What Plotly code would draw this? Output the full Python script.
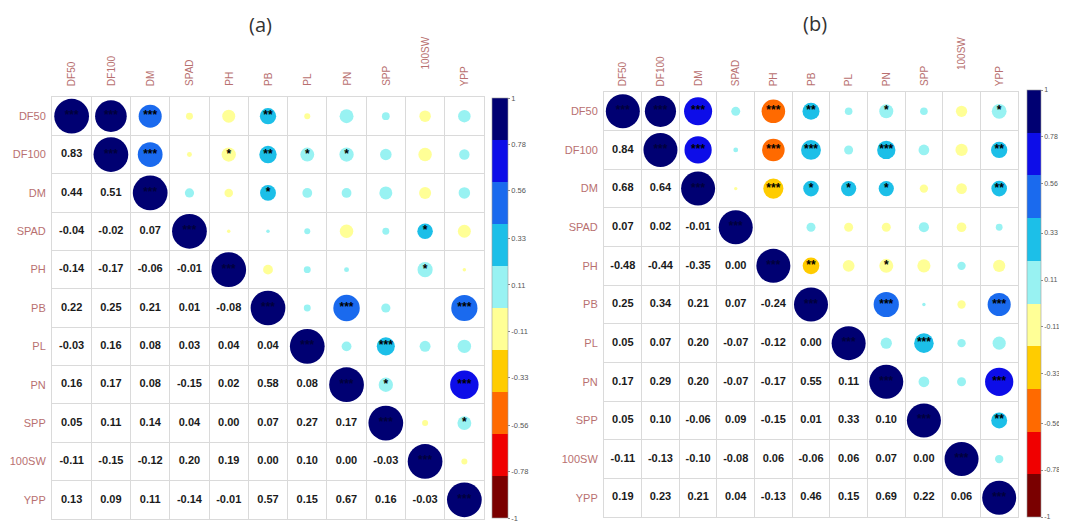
import plotly.graph_objects as go

variables = ["DF50", "DF100", "DM", "SPAD", "PH", "PB", "PL", "PN", "SPP", "100SW", "YPP"]

# lower-triangle correlations, panel (a)
corr_a_lower = [
    [],
    [0.83],
    [0.44, 0.51],
    [-0.04, -0.02, 0.07],
    [-0.14, -0.17, -0.06, -0.01],
    [0.22, 0.25, 0.21, 0.01, -0.08],
    [-0.03, 0.16, 0.08, 0.03, 0.04, 0.04],
    [0.16, 0.17, 0.08, -0.15, 0.02, 0.58, 0.08],
    [0.05, 0.11, 0.14, 0.04, 0.00, 0.07, 0.27, 0.17],
    [-0.11, -0.15, -0.12, 0.20, 0.19, 0.00, 0.10, 0.00, -0.03],
    [0.13, 0.09, 0.11, -0.14, -0.01, 0.57, 0.15, 0.67, 0.16, -0.03],
]

# lower-triangle correlations, panel (b)
corr_b_lower = [
    [],
    [0.84],
    [0.68, 0.64],
    [0.07, 0.02, -0.01],
    [-0.48, -0.44, -0.35, 0.00],
    [0.25, 0.34, 0.21, 0.07, -0.24],
    [0.05, 0.07, 0.20, -0.07, -0.12, 0.00],
    [0.17, 0.29, 0.20, -0.07, -0.17, 0.55, 0.11],
    [0.05, 0.10, -0.06, 0.09, -0.15, 0.01, 0.33, 0.10],
    [-0.11, -0.13, -0.10, -0.08, 0.06, -0.06, 0.06, 0.07, 0.00],
    [0.19, 0.23, 0.21, 0.04, -0.13, 0.46, 0.15, 0.69, 0.22, 0.06],
]

# significance stars for the diagonal and upper triangle (row i, columns i..10)
stars_a = [
    ["***", "***", "***", "", "", "**", "", "", "", "", ""],
    ["***", "***", "", "*", "**", "*", "*", "", "", ""],
    ["***", "", "", "*", "", "", "", "", ""],
    ["***", "", "", "", "", "", "*", ""],
    ["***", "", "", "", "", "*", ""],
    ["***", "", "***", "", "", "***"],
    ["***", "", "***", "", ""],
    ["***", "*", "", "***"],
    ["***", "", "*"],
    ["***", ""],
    ["***"],
]

stars_b = [
    ["***", "***", "***", "", "***", "**", "", "*", "", "", "*"],
    ["***", "***", "", "***", "***", "", "***", "", "", "**"],
    ["***", "", "***", "*", "*", "*", "", "", "**"],
    ["***", "", "", "", "", "", "", ""],
    ["***", "**", "", "*", "", "", ""],
    ["***", "", "***", "", "", "***"],
    ["***", "", "***", "", ""],
    ["***", "", "", "***"],
    ["***", "", "**"],
    ["***", ""],
    ["***"],
]

colorbar_ticks = [1, 0.78, 0.56, 0.33, 0.11, -0.11, -0.33, -0.56, -0.78, -1]
colorbar_labels = ["1", "0.78", "0.56", "0.33", "0.11", "-0.11", "-0.33", "-0.56", "-0.78", "-1"]

band_colors = ["#7A0000", "#F00000", "#FF6A00", "#FFCC00", "#FFFF96",
               "#98F2F2", "#1CBFE8", "#1A6AEE", "#0D0DE8", "#000072"]
colorscale = []
for k, c in enumerate(band_colors):
    colorscale += [[k / 10, c], [(k + 1) / 10, c]]

# the page body has an 8px margin, so the figure is sized to the visible area
OFF = 8
W, H = 1067 - OFF, 524 - OFF
LABEL_COL = "#B87070"
GRID_COL = "#DADADA"
FONT = "Liberation Sans"


def px_x(v):
    return (v - OFF) / W


def px_y(v):
    return 1 - (v - OFF) / H


def full_matrix(lower):
    n = len(variables)
    m = [[1.0] * n for _ in range(n)]
    for i in range(n):
        for j in range(i):
            m[i][j] = lower[i][j]
            m[j][i] = lower[i][j]
    return m


# positions below are screen pixels of the 1067x524 window
panels = [
    dict(lower=corr_a_lower, stars=stars_a, xpx=(52, 484), ypx=(97, 519), cell=38.6,
         cb_x=492, cb_top=98, cb_bot=518, cb_th=16, tick_font=7.5,
         title="(a)", title_x=260, title_y=24, lab_y=88),
    dict(lower=corr_b_lower, stars=stars_b, xpx=(604, 1018), ypx=(92, 517), cell=37.8,
         cb_x=1027, cb_top=90, cb_bot=517, cb_th=14, tick_font=7,
         title="(b)", title_x=815, title_y=23, lab_y=88),
]

fig = go.Figure()
annotations = []
n = len(variables)

for p_idx, p in enumerate(panels):
    suffix = "" if p_idx == 0 else str(p_idx + 1)
    xa, ya = "x" + suffix, "y" + suffix
    m = full_matrix(p["lower"])

    # circles (diagonal + upper)
    cx, cy, cval, csize = [], [], [], []
    for i in range(n):
        for j in range(i, n):
            r = m[i][j]
            cx.append(j)
            cy.append(i)
            cval.append(r)
            csize.append(0.9 * p["cell"] * abs(r) ** 0.5)
    cb_len = p["cb_bot"] - p["cb_top"]
    cb_mid = (p["cb_bot"] + p["cb_top"]) / 2
    fig.add_trace(go.Scatter(
        x=cx, y=cy, mode="markers", xaxis=xa, yaxis=ya, hoverinfo="skip",
        marker=dict(size=csize, color=cval, colorscale=colorscale, cmin=-1, cmax=1,
                    line=dict(width=0), opacity=1,
                    showscale=True,
                    colorbar=dict(x=px_x(p["cb_x"]), xanchor="left", y=px_y(cb_mid), yanchor="middle",
                                  len=cb_len, lenmode="pixels", thickness=p["cb_th"],
                                  thicknessmode="pixels", tickmode="array",
                                  tickvals=colorbar_ticks, ticktext=colorbar_labels,
                                  ticks="outside", ticklen=2, tickcolor="#8A8A8A",
                                  tickfont=dict(size=p["tick_font"], color="#555555", family=FONT),
                                  outlinewidth=0.6, outlinecolor="#9A9A9A", xpad=0, ypad=0)),
    ))

    # numbers (lower triangle)
    tx, ty, tt = [], [], []
    for i in range(n):
        for j in range(i):
            tx.append(j)
            ty.append(i)
            tt.append(f"{m[i][j]:.2f}")
    fig.add_trace(go.Scatter(
        x=tx, y=ty, text=tt, mode="text", xaxis=xa, yaxis=ya, hoverinfo="skip",
        textfont=dict(size=11, color="#1A1A1A", family=FONT, weight="bold"),
    ))

    # stars (dark marks hardly show on the darkest circles)
    sx, sy, st, sc = [], [], [], []
    for i in range(n):
        for k, s in enumerate(p["stars"][i]):
            if s:
                j = i + k
                sx.append(j)
                sy.append(i)
                st.append(s)
                sc.append("#00003C" if abs(m[i][j]) >= 0.8 else "#000000")
    fig.add_trace(go.Scatter(
        x=sx, y=sy, text=st, mode="text", xaxis=xa, yaxis=ya, hoverinfo="skip",
        textposition="middle center",
        textfont=dict(size=12, color=sc, family=FONT, weight="bold"),
    ))

    x0, x1 = p["xpx"]
    y0, y1 = p["ypx"]
    minor = dict(tickmode="array", tickvals=[k + 0.5 for k in range(n - 1)], showgrid=True,
                 gridcolor=GRID_COL, gridwidth=1, ticks="")
    fig.update_layout(**{
        "xaxis" + suffix: dict(domain=[px_x(x0), px_x(x1)], range=[-0.5, n - 0.5], showticklabels=False,
                               showgrid=False, zeroline=False, showline=True, mirror=True,
                               linecolor=GRID_COL, linewidth=1, minor=minor, ticks="",
                               anchor=ya, fixedrange=True),
        "yaxis" + suffix: dict(domain=[px_y(y1), px_y(y0)], range=[n - 0.5, -0.5],
                               tickmode="array", tickvals=list(range(n)), ticktext=variables,
                               tickfont=dict(size=11, color=LABEL_COL, family=FONT),
                               showgrid=False, zeroline=False, showline=True, mirror=True,
                               linecolor=GRID_COL, linewidth=1, minor=minor, ticks="",
                               ticklabelstandoff=3, anchor=xa, fixedrange=True),
    })

    for j, v in enumerate(variables):
        ly = p["lab_y"] if v != "100SW" else p["lab_y"] - 16
        annotations.append(dict(x=j, xref=xa, y=px_y(ly), yref="paper", text=v, textangle=-90,
                                xanchor="center", yanchor="bottom", showarrow=False,
                                font=dict(size=10, color=LABEL_COL, family=FONT)))
    annotations.append(dict(x=px_x(p["title_x"]), y=px_y(p["title_y"]), xref="paper", yref="paper",
                            text=p["title"], showarrow=False, xanchor="center", yanchor="middle",
                            font=dict(size=20, color="#333333", family="Open Sans")))

fig.update_layout(width=W, height=H, margin=dict(l=0, r=0, t=0, b=0),
                  paper_bgcolor="white", plot_bgcolor="white", showlegend=False,
                  annotations=annotations)

fig.write_html("out.html")
